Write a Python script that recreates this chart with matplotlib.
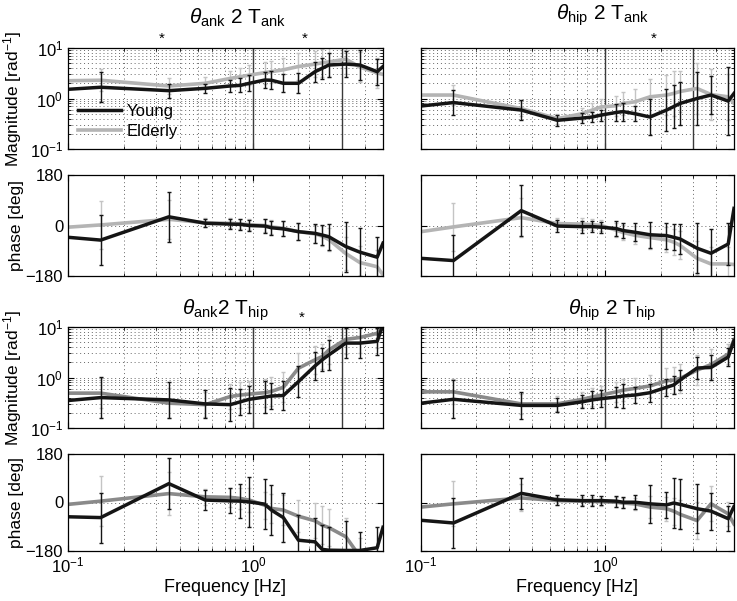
import numpy as np
import matplotlib
matplotlib.use('Agg')
import matplotlib.pyplot as plt
from matplotlib.ticker import LogLocator, NullFormatter

plt.rcParams['font.family'] = ['Liberation Sans', 'DejaVu Sans']
plt.rcParams['mathtext.fontset'] = 'custom'
plt.rcParams['mathtext.rm'] = 'Liberation Sans'
plt.rcParams['mathtext.it'] = 'Liberation Sans:italic'

# frequencies of the excitation (Hz)
freq = [0.1, 0.15, 0.35, 0.55, 0.75, 0.85, 0.95, 1.15, 1.25, 1.45, 1.75, 2.15, 2.35, 2.55, 3.15, 3.75, 4.65, 5.0]

# theta_ank 2 T_ank
aa_young_mag = [1.52, 1.67, 1.43, 1.59, 1.77, 1.82, 2.0, 2.32, 2.3, 2.0, 2.0, 3.4, 3.97, 4.6, 4.8, 4.6, 3.4, 4.3]
aa_young_mag_err = [0, 0.3, 0.14, 0.09, 0.115, 0.14, 0.155, 0.165, 0.18, 0.175, 0.2, 0.2, 0.21, 0.24, 0.26, 0.3, 0.26, 0]
aa_old_mag = [2.25, 2.3, 1.77, 2.0, 2.5, 2.7, 2.9, 3.25, 3.4, 3.7, 4.3, 4.8, 5.1, 5.3, 6.0, 4.2, 3.2, 3.0]
aa_old_mag_err = [0, 0.22, 0.15, 0.12, 0.15, 0.17, 0.2, 0.22, 0.22, 0.24, 0.26, 0.26, 0.28, 0.3, 0.3, 0.3, 0.3, 0]
aa_young_ph = [-42, -52, 31, 8, 5, 4, 0, -2, -8, -12, -22, -28, -34, -40, -75, -95, -113, -63]
aa_young_ph_err = [0, 90, 90, 15, 19, 19, 21, 25, 25, 27, 31, 33, 37, 46, 89, 86, 71, 0]
aa_old_ph = [-6, 2, 22, 10, 8, 6, 3, 0, -5, -10, -22, -30, -38, -50, -100, -132, -147, -176]
aa_old_ph_err = [0, 85, 70, 15, 18, 18, 20, 22, 24, 26, 30, 32, 35, 40, 60, 60, 60, 0]

# theta_hip 2 T_ank
ha_young_mag = [0.71, 0.83, 0.59, 0.37, 0.41, 0.43, 0.47, 0.53, 0.55, 0.5, 0.43, 0.59, 0.69, 0.8, 1.0, 1.17, 0.89, 1.26]
ha_young_mag_err = [0, 0.25, 0.19, 0.11, 0.1, 0.1, 0.11, 0.16, 0.18, 0.15, 0.36, 0.42, 0.43, 0.43, 0.53, 0.38, 0.67, 0]
ha_old_mag = [1.17, 1.17, 0.63, 0.4, 0.5, 0.59, 0.68, 0.72, 0.8, 0.86, 1.08, 1.17, 1.26, 1.38, 1.58, 1.2, 1.08, 0.8]
ha_old_mag_err = [0, 0.2, 0.15, 0.1, 0.12, 0.14, 0.15, 0.2, 0.22, 0.25, 0.35, 0.4, 0.45, 0.4, 0.5, 0.5, 0.45, 0]
ha_young_ph = [-117, -125, 53, -2, -4, -4, -6, -11, -18, -24, -33, -36, -42, -48, -81, -99, -66, 61]
ha_young_ph_err = [0, 90, 90, 21, 21, 20, 20, 27, 27, 33, 47, 46, 47, 52, 89, 85, 74, 0]
ha_old_ph = [-22, -5, 28, 7, 5, 3, 0, -17, -25, -35, -43, -51, -59, -71, -117, -137, -137, -139]
ha_old_ph_err = [0, 85, 70, 18, 20, 20, 20, 25, 28, 32, 40, 45, 45, 50, 60, 60, 60, 0]

# theta_ank 2 T_hip
ah_young_mag = [0.35, 0.4, 0.36, 0.3, 0.29, 0.33, 0.37, 0.41, 0.43, 0.44, 0.83, 1.7, 2.24, 2.8, 4.8, 4.8, 5.2, 11]
ah_young_mag_err = [0, 0.4, 0.36, 0.27, 0.33, 0.26, 0.27, 0.31, 0.26, 0.29, 0.3, 0.28, 0.23, 0.29, 0.3, 0.3, 0.27, 0]
ah_old_mag = [0.49, 0.49, 0.31, 0.29, 0.42, 0.45, 0.47, 0.5, 0.53, 0.64, 1.53, 2.24, 2.6, 3.5, 5.7, 6.2, 7.5, 10]
ah_old_mag_err = [0, 0.3, 0.3, 0.25, 0.25, 0.25, 0.25, 0.28, 0.28, 0.3, 0.3, 0.28, 0.25, 0.28, 0.3, 0.3, 0.3, 0]
ah_young_ph = [-53, -56, 70, 9, 6, 5, 2, -6, -28, -56, -140, -146, -174, -177, -178, -178, -168, -92]
ah_young_ph_err = [0, 93, 94, 38, 46, 63, 93, 93, 93, 92, 92, 90, 90, 87, 108, 68, 78, 0]
ah_old_ph = [-7, 5, 33, 21, 19, 15, 9, -10, -22, -28, -51, -68, -84, -93, -127, -200, -230, -240]
ah_old_ph_err = [0, 93, 80, 30, 35, 40, 45, 50, 55, 55, 60, 65, 70, 70, 70, 70, 70, 0]

# theta_hip 2 T_hip
hh_young_mag = [0.31, 0.37, 0.28, 0.28, 0.33, 0.36, 0.38, 0.41, 0.43, 0.45, 0.5, 0.64, 0.71, 0.89, 1.54, 1.58, 2.54, 5.4]
hh_young_mag_err = [0, 0.38, 0.27, 0.14, 0.13, 0.17, 0.17, 0.19, 0.23, 0.16, 0.18, 0.17, 0.17, 0.2, 0.22, 0.24, 0.17, 0]
hh_old_mag = [0.52, 0.52, 0.3, 0.3, 0.37, 0.41, 0.45, 0.52, 0.56, 0.61, 0.68, 0.86, 0.89, 0.96, 1.4, 1.8, 2.9, 5.6]
hh_old_mag_err = [0, 0.25, 0.2, 0.15, 0.15, 0.17, 0.17, 0.2, 0.22, 0.2, 0.22, 0.25, 0.25, 0.28, 0.3, 0.3, 0.2, 0]
hh_young_ph = [-66, -76, 34, 10, 7, 7, 7, 5, 1, 1, -5, -9, -2, -7, -23, -32, -60, -15]
hh_young_ph_err = [0, 92, 58, 18, 20, 20, 17, 20, 20, 25, 71, 49, 94, 93, 92, 69, 47, 0]
hh_old_ph = [-17, -5, 17, 7, 5, 4, 3, 1, -2, -5, -17, -23, -32, -44, -67, -5, -42, -80]
hh_old_ph_err = [0, 84, 50, 15, 15, 15, 15, 18, 20, 22, 40, 45, 50, 55, 70, 65, 45, 0]

titles = [r'$\theta_{\mathrm{ank}}$ 2 T$_{\mathrm{ank}}$', r'$\theta_{\mathrm{hip}}$ 2 T$_{\mathrm{ank}}$',
          r'$\theta_{\mathrm{ank}}$2 T$_{\mathrm{hip}}$', r'$\theta_{\mathrm{hip}}$ 2 T$_{\mathrm{hip}}$']
vlines = [[1, 3], [1, 3], [1, 3], [1, 2]]
stars = [[0.32, 1.88], [1.83], [1.83], []]

panels = [
    (aa_young_mag, aa_young_mag_err, aa_old_mag, aa_old_mag_err, aa_young_ph, aa_young_ph_err, aa_old_ph, aa_old_ph_err),
    (ha_young_mag, ha_young_mag_err, ha_old_mag, ha_old_mag_err, ha_young_ph, ha_young_ph_err, ha_old_ph, ha_old_ph_err),
    (ah_young_mag, ah_young_mag_err, ah_old_mag, ah_old_mag_err, ah_young_ph, ah_young_ph_err, ah_old_ph, ah_old_ph_err),
    (hh_young_mag, hh_young_mag_err, hh_old_mag, hh_old_mag_err, hh_young_ph, hh_young_ph_err, hh_old_ph, hh_old_ph_err),
]

W, H = 737, 601
fig = plt.figure(figsize=(W / 100, H / 100), dpi=100)

cols = [(68, 383), (421, 734)]
rows = [((48, 149), (175, 276)), ((327, 428), (454, 551))]
title_pos = [(0.54, 1.30), (0.58, 1.32), (0.50, 1.17), (0.61, 1.17)]

def rect(x, y):
    return [x[0] / W, 1 - y[1] / H, (x[1] - x[0]) / W, (y[1] - y[0]) / H]

young_c = '#151515'
old_cs = ['#b4b4b4', '#b4b4b4', '#8a8a8a', '#8a8a8a']
old_err_c = '#c4c4c4'
grid_kw = dict(linestyle=(0, (1, 3)), color='#666666', linewidth=0.7)

def style(ax):
    ax.set_xscale('log')
    ax.set_xlim(0.1, 5)
    ax.xaxis.set_minor_locator(LogLocator(base=10, subs=np.arange(2, 10)))
    ax.tick_params(which='both', direction='in', top=True, right=True, labelsize=12)
    ax.tick_params(which='major', length=4)
    ax.tick_params(which='minor', length=2)
    for s in ax.spines.values():
        s.set_linewidth(0.9)

fr = np.array(freq)
for i, p in enumerate(panels):
    ym, yme, om, ome, yp, ype, op, ope = [np.array(a, dtype=float) for a in p]
    r, c = divmod(i, 2)
    axm = fig.add_axes(rect(cols[c], rows[r][0]))
    axp = fig.add_axes(rect(cols[c], rows[r][1]))
    for ax in (axm, axp):
        style(ax)

    # magnitude
    axm.set_yscale('log')
    axm.set_ylim(0.1, 10)
    axm.yaxis.set_minor_locator(LogLocator(base=10, subs=np.arange(2, 10)))
    axm.yaxis.set_minor_formatter(NullFormatter())
    axm.grid(True, which='both', **grid_kw)
    for v in vlines[i]:
        axm.axvline(v, color='#3a3a3a', linewidth=1.0)
    m = ome > 0
    axm.errorbar(fr[m], om[m], yerr=[om[m] - om[m] / 10 ** ome[m], om[m] * 10 ** ome[m] - om[m]],
                 fmt='none', ecolor=old_err_c, elinewidth=1.0, capsize=1.5)
    axm.plot(fr, om, color=old_cs[i], linewidth=2.6, label='Elderly')
    m = yme > 0
    axm.errorbar(fr[m], ym[m], yerr=[ym[m] - ym[m] / 10 ** yme[m], ym[m] * 10 ** yme[m] - ym[m]],
                 fmt='none', ecolor=young_c, elinewidth=1.0, capsize=1.5)
    axm.plot(fr, ym, color=young_c, linewidth=2.5, label='Young')
    axm.set_yticks([0.1, 1, 10])
    axm.tick_params(axis='x', which='both', labelbottom=False)

    # phase
    axp.set_ylim(-180, 180)
    axp.set_yticks([-180, 0, 180])
    axp.yaxis.set_minor_locator(plt.NullLocator())
    axp.grid(True, which='both', axis='x', **grid_kw)
    axp.grid(True, which='major', axis='y', **grid_kw)
    m = ope > 0
    axp.errorbar(fr[m], op[m], yerr=ope[m], fmt='none', ecolor=old_err_c, elinewidth=1.0, capsize=1.5)
    axp.plot(fr, op, color=old_cs[i], linewidth=2.6)
    m = ype > 0
    axp.errorbar(fr[m], yp[m], yerr=ype[m], fmt='none', ecolor=young_c, elinewidth=1.0, capsize=1.5)
    axp.plot(fr, yp, color=young_c, linewidth=2.5)
    axp.set_yticklabels(['\u2212180', '0', '180'])
    axp.set_xticks([0.1, 1])
    axp.xaxis.set_minor_formatter(NullFormatter())

    if r == 0:
        axp.tick_params(axis='x', which='both', labelbottom=False)
    else:
        axp.set_xlabel('Frequency [Hz]', fontsize=13, labelpad=2)
    if c == 0:
        axm.set_ylabel('Magnitude [rad$^{\\mathrm{-1}}$]', fontsize=12.5)
        axp.set_ylabel('phase [deg]', fontsize=12.5)
        axm.yaxis.set_label_coords(-0.14, 0.5)
        axp.yaxis.set_label_coords(-0.14, 0.5)
    else:
        axm.tick_params(axis='y', which='both', labelleft=False)
        axp.tick_params(axis='y', which='both', labelleft=False)

    tx, ty = title_pos[i]
    axm.text(tx, ty, titles[i], transform=axm.transAxes, ha='center', va='center', fontsize=15)
    for sx in stars[i]:
        axm.text(sx, 1.02, '*', transform=axm.get_xaxis_transform(), ha='center', va='bottom', fontsize=11)

    if i == 0:
        h, l = axm.get_legend_handles_labels()
        axm.legend(h[::-1], l[::-1], loc='lower left', frameon=False, fontsize=12,
                   handlelength=2.6, handletextpad=0.3, borderaxespad=0.2, labelspacing=0.3)

fig.savefig('out.png', dpi=100)
